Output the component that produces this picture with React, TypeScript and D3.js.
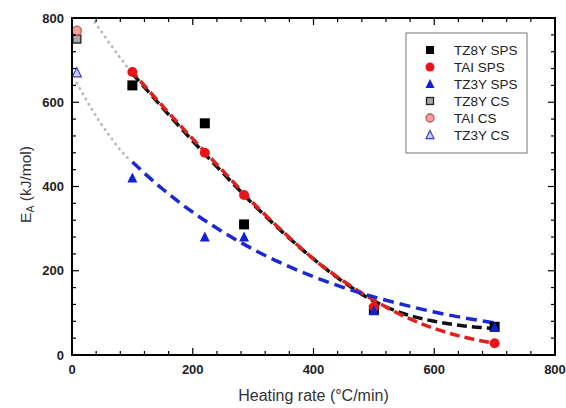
import React from "react";
import * as d3 from "d3";

const W = 566, H = 408;
const M = { left: 72, right: 11, top: 18, bottom: 53 };

const xTicks = [0, 200, 400, 600, 800];
const yTicks = [0, 200, 400, 600, 800];

const rates = [100, 220, 285, 500, 700];
const tz8ySps = [640, 550, 310, 107, 67];
const taiSps = [672, 480, 380, 114, 28];
const tz3ySps = [420, 280, 280, 105, 66];

const csRate = [8];
const tz8yCs = [750];
const taiCs = [770];
const tz3yCs = [670];

const fitX = [100, 150, 200, 250, 300, 350, 400, 450, 500, 550, 600, 650, 700];
const fitBlack = [668, 587, 508, 432, 358, 290, 228, 173, 128, 98, 80, 69, 63];
const fitRed = [672, 591, 513, 437, 361, 292, 228, 175, 130, 92, 63, 42, 28];
const fitBlue = [458, 394, 339, 292, 251, 216, 186, 160, 138, 119, 102, 88, 76];

const dotUpperX = [38, 50, 65, 80, 95];
const dotUpperY = [790, 765, 735, 705, 677];
const dotLowerX = [8, 20, 35, 50, 65, 80, 98];
const dotLowerY = [645, 615, 578, 545, 515, 487, 460];

const legendLabels = ["TZ8Y SPS", "TAI SPS", "TZ3Y SPS", "TZ8Y CS", "TAI CS", "TZ3Y CS"];

export default function App() {
  const x = d3.scaleLinear().domain([0, 800]).range([M.left, W - M.right]);
  const y = d3.scaleLinear().domain([0, 800]).range([H - M.bottom, M.top]);
  const line = d3.line<[number, number]>().x(d => x(d[0])).y(d => y(d[1])).curve(d3.curveMonotoneX);
  const zip = (a: number[], b: number[]) => a.map((v, i) => [v, b[i]] as [number, number]);

  const x0 = x(0), x1 = x(800), y0 = y(0), y1 = y(800);
  const minorX = d3.range(0, 801, 40);
  const minorY = d3.range(0, 801, 40);
  const font = "Arial, 'Liberation Sans', sans-serif";

  const square = (cx: number, cy: number, s: number, fill: string, stroke: string, sw: number, key: string) => (
    <rect key={key} x={cx - s / 2} y={cy - s / 2} width={s} height={s} fill={fill} stroke={stroke} strokeWidth={sw} />
  );
  const circle = (cx: number, cy: number, r: number, fill: string, stroke: string, sw: number, key: string) => (
    <circle key={key} cx={cx} cy={cy} r={r} fill={fill} stroke={stroke} strokeWidth={sw} />
  );
  const tri = (cx: number, cy: number, s: number, fill: string, stroke: string, sw: number, key: string) => {
    const h = s * 0.9;
    return (
      <path key={key} d={`M${cx},${cy - h / 2 - 1}L${cx + s / 2},${cy + h / 2}L${cx - s / 2},${cy + h / 2}Z`} fill={fill} stroke={stroke} strokeWidth={sw} />
    );
  };

  const legendX = 406, legendY = 33;
  const rowY = (i: number) => legendY + 17 + i * 17;
  const mx = 430;

  return (
    <svg width={W} height={H} style={{ position: "absolute", left: 0, top: 0, background: "#fff" }}>
      <rect width={W} height={H} fill="#fff" />
      {/* dotted extrapolations */}
      <path d={line(zip(dotUpperX, dotUpperY)) || ""} fill="none" stroke="#b8b8b8" strokeWidth={3} strokeLinecap="round" strokeDasharray="0 6" />
      <path d={line(zip(dotLowerX, dotLowerY)) || ""} fill="none" stroke="#b8b8b8" strokeWidth={3} strokeLinecap="round" strokeDasharray="0 6" />
      {/* fits */}
      <path d={line(zip(fitX, fitBlack)) || ""} fill="none" stroke="#111" strokeWidth={3.5} strokeDasharray="10 5" />
      <path d={line(zip(fitX, fitRed)) || ""} fill="none" stroke="#e0201c" strokeWidth={3.5} strokeDasharray="10 5" strokeDashoffset={3} />
      <path d={line(zip(fitX, fitBlue)) || ""} fill="none" stroke="#1a2ad0" strokeWidth={3.5} strokeDasharray="11 6" />
      {/* CS points */}
      {csRate.map((r, i) => square(x(r), y(tz8yCs[i]), 8, "#a8a8a8", "#222", 1.3, "s" + i))}
      {csRate.map((r, i) => circle(x(r), y(taiCs[i]), 4.5, "#f2a0a0", "#cc5050", 1.3, "c" + i))}
      {csRate.map((r, i) => tri(x(r), y(tz3yCs[i]), 9, "#c8ccff", "#3a40c0", 1.2, "t" + i))}
      {/* SPS points */}
      {rates.map((r, i) => square(x(r), y(tz8ySps[i]), 10, "#000", "#000", 0, "S" + i))}
      {rates.map((r, i) => circle(x(r), y(taiSps[i]), 5, "#e8141a", "#e8141a", 0, "C" + i))}
      {rates.map((r, i) => tri(x(r), y(tz3ySps[i]), 10, "#1020d8", "#1020d8", 0, "T" + i))}
      {/* frame */}
      <rect x={x0} y={y1} width={x1 - x0} height={y0 - y1} fill="none" stroke="#000" strokeWidth={2} />
      {/* ticks */}
      {minorX.map(v => {
        const major = v % 200 === 0;
        const len = major ? 7 : 4;
        return (
          <g key={"xt" + v}>
            <line x1={x(v)} x2={x(v)} y1={y0} y2={y0 - len} stroke="#000" strokeWidth={1.2} />
            <line x1={x(v)} x2={x(v)} y1={y1} y2={y1 + len} stroke="#000" strokeWidth={1.2} />
          </g>
        );
      })}
      {minorY.map(v => {
        const major = v % 200 === 0;
        const len = major ? 7 : 4;
        return (
          <g key={"yt" + v}>
            <line x1={x0} x2={x0 + len} y1={y(v)} y2={y(v)} stroke="#000" strokeWidth={1.2} />
            <line x1={x1} x2={x1 - len} y1={y(v)} y2={y(v)} stroke="#000" strokeWidth={1.2} />
          </g>
        );
      })}
      {xTicks.map(v => (
        <text key={"xl" + v} x={x(v)} y={y0 + 19} textAnchor="middle" fontFamily={font} fontWeight="bold" fontSize={13} fill="#222">{v}</text>
      ))}
      {yTicks.map(v => (
        <text key={"yl" + v} x={x0 - 8} y={y(v) + 4.5} textAnchor="end" fontFamily={font} fontWeight="bold" fontSize={13} fill="#222">{v}</text>
      ))}
      <text x={(x0 + x1) / 2} y={401} textAnchor="middle" fontFamily={font} fontSize={16} fill="#333">Heating rate (°C/min)</text>
      <text transform={`translate(31,184.5) rotate(-90)`} textAnchor="middle" fontFamily={font} fontSize={15.5} fill="#333">
        E<tspan fontSize={10.5} dy={3}>A</tspan><tspan dy={-3}> (kJ/mol)</tspan>
      </text>
      {/* legend */}
      <rect x={legendX} y={legendY} width={121} height={120} fill="#fff" stroke="#777" strokeWidth={1} />
      {square(mx, rowY(0), 8, "#000", "#000", 0, "l0")}
      {circle(mx, rowY(1), 4.5, "#e8141a", "#e8141a", 0, "l1")}
      {tri(mx, rowY(2), 9, "#1020d8", "#1020d8", 0, "l2")}
      {square(mx, rowY(3), 7, "#a8a8a8", "#222", 1.3, "l3")}
      {circle(mx, rowY(4), 4, "#f2a0a0", "#cc5050", 1.3, "l4")}
      {tri(mx, rowY(5), 8, "#c8ccff", "#3a40c0", 1.2, "l5")}
      {legendLabels.map((t, i) => (
        <text key={"lt" + i} x={454} y={rowY(i) + 5} fontFamily={font} fontSize={13.5} fill="#222">{t}</text>
      ))}
    </svg>
  );
}
